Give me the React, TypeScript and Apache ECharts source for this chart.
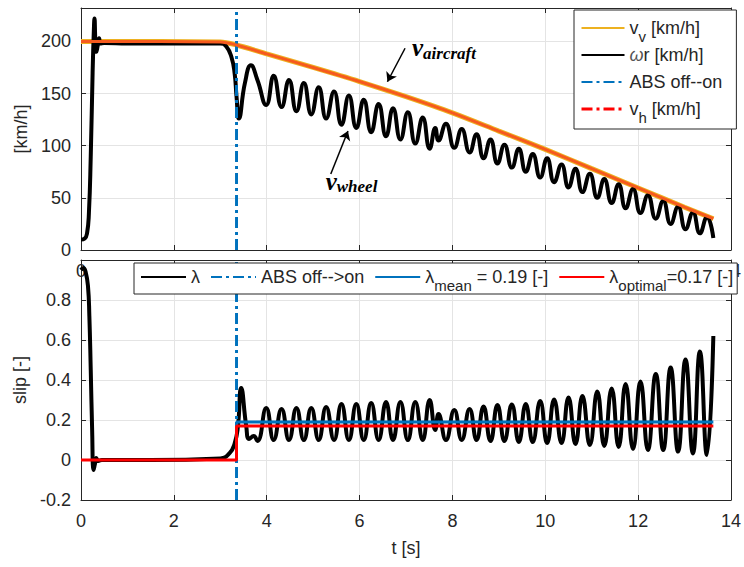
import React, { useEffect, useRef } from 'react';
import * as echarts from 'echarts';

// ---------- data ----------
const absTime = 3.35;

// aircraft speed v_v (and v_h, drawn on top of it) [km/h]
const aircraftT = [0, 3.0, 3.35, 4, 5, 6, 7, 8, 9, 10, 11, 12, 13, 13.62];
const aircraftV = [200, 199.5, 196.5, 188, 175, 161.5, 147, 131.5, 114, 96.5, 78, 59.5, 41, 30];

// wheel speed omega*r [km/h]
const wheelT = [0, 0.08, 0.13, 0.17, 0.21, 0.25, 0.28, 0.29, 0.31, 0.33,
  0.36, 0.39, 0.42, 0.5, 1.0, 2.0, 3.0, 3.13, 3.24, 3.31,
  3.35, 3.40, 3.53, 3.66, 3.80, 3.99, 4.15, 4.32, 4.48, 4.64,
  4.80, 4.96, 5.12, 5.28, 5.45, 5.61, 5.77, 5.93, 6.09, 6.25,
  6.41, 6.57, 6.72, 6.88, 7.04, 7.20, 7.36, 7.51, 7.63, 7.70,
  7.86, 8.04, 8.20, 8.37, 8.52, 8.67, 8.82, 8.97, 9.12, 9.28,
  9.43, 9.58, 9.73, 9.89, 10.04, 10.19, 10.35, 10.50, 10.65, 10.80,
  10.96, 11.12, 11.27, 11.43, 11.58, 11.73, 11.89, 12.05, 12.21, 12.38,
  12.54, 12.70, 12.86, 13.02, 13.18, 13.33, 13.48, 13.62];
const wheelV = [10, 11, 16, 35, 90, 170, 215, 222, 200, 190,
  196, 203, 198, 198.5, 198, 198, 198, 195, 185, 169,
  147, 126, 160, 177, 163, 139, 167, 137, 163, 133,
  160, 130, 156, 126, 152, 120, 148, 117, 144, 113,
  140, 109, 136, 106, 132, 102, 127, 97, 117, 105,
  121, 98, 116, 93.5, 111, 88, 106, 83, 101, 79,
  97, 75, 92, 69.5, 88, 65, 82, 60, 78, 55.5,
  73, 50, 68, 45, 63, 40, 58.5, 35.5, 52.5, 30,
  47, 25, 41.5, 20, 36, 16, 31.5, 11.5];

// slip lambda [-]
const slipT = [0, 0.05, 0.1, 0.15, 0.18, 0.21, 0.24, 0.27, 0.3, 0.33,
  0.37, 0.45, 1.5, 3.0, 3.2, 3.31, 3.38, 3.45, 3.56, 3.62,
  3.72, 3.80, 3.99, 4.15, 4.32, 4.48, 4.64, 4.80, 4.96, 5.12,
  5.28, 5.45, 5.61, 5.77, 5.93, 6.09, 6.25, 6.41, 6.57, 6.72,
  6.88, 7.04, 7.20, 7.36, 7.51, 7.63, 7.70, 7.86, 8.04, 8.20,
  8.37, 8.52, 8.67, 8.82, 8.97, 9.12, 9.28, 9.43, 9.58, 9.73,
  9.89, 10.04, 10.19, 10.35, 10.50, 10.65, 10.80, 10.96, 11.12, 11.27,
  11.43, 11.58, 11.73, 11.89, 12.05, 12.21, 12.38, 12.54, 12.70, 12.86,
  13.02, 13.18, 13.33, 13.48, 13.62];
const slipV = [0.95, 0.96, 0.94, 0.87, 0.72, 0.45, 0.15, -0.05, -0.02, 0.01,
  -0.005, 0, 0, 0.008, 0.034, 0.083, 0.167, 0.36, 0.167, 0.105,
  0.12, 0.095, 0.26, 0.10, 0.255, 0.10, 0.26, 0.10, 0.26, 0.10,
  0.265, 0.10, 0.28, 0.10, 0.28, 0.10, 0.285, 0.10, 0.29, 0.10,
  0.29, 0.10, 0.29, 0.10, 0.30, 0.15, 0.23, 0.10, 0.25, 0.10,
  0.255, 0.10, 0.267, 0.095, 0.275, 0.095, 0.278, 0.09, 0.28, 0.09,
  0.295, 0.085, 0.303, 0.085, 0.312, 0.08, 0.32, 0.075, 0.342, 0.07,
  0.358, 0.065, 0.38, 0.055, 0.392, 0.05, 0.43, 0.05, 0.462, 0.042,
  0.503, 0.033, 0.542, 0.025, 0.62];

const lambdaMeanT = [3.35, 3.35, 13.62];
const lambdaMeanV = [0, 0.19, 0.19];
const lambdaOptT = [0, 3.35, 3.35, 13.62];
const lambdaOptV = [0, 0, 0.17, 0.17];

// axes
const xRange = [0, 14];
const xStep = 2;
const topXLabelsShown = [0, 14]; // the others are hidden under the lower legend
const topYRange = [0, 232];
const topYStep = 50;
const botYRange = [-0.2, 1.0];
const botYStep = 0.2;

// annotation arrows (data coords: tail -> tip) and label anchors
const arrowAircraft = [[6.98, 193.4], [6.60, 161.3]];
const arrowWheel = [[5.38, 72.9], [5.75, 114.1]];
const labelAircraftPos = [7.13, 194];
const labelWheelPos = [5.27, 66];

// ---------- styles ----------
const FONT = '"Liberation Sans", Arial, Helvetica, sans-serif';
const SERIF = '"Liberation Serif", "DejaVu Serif", serif';
const TXT = '#262626';
const GRIDC = '#E4E4E4';
const BLUE = '#0072BD';
const RED = '#FF0000';
const YELLOW = '#EDB120';
const ORANGE = '#F65A1E';
const DASHDOT = [11, 4, 3, 4];

const zip = (t: number[], v: number[]) => t.map((x, i) => [x, v[i]]);

const legendRich = {
  n: { fontSize: 18, lineHeight: 26, fontFamily: FONT, color: TXT },
  s: { fontSize: 15, lineHeight: 12, verticalAlign: 'top', padding: [14, 0, 0, 0], fontFamily: FONT, color: TXT },
  g: { fontSize: 18, lineHeight: 26, fontFamily: FONT, fontStyle: 'italic', color: '#555555' },
};

const topLegendLabels: Record<string, string> = {
  'vv': '{n|v}{s|v}{n| [km/h]}',
  'wr': '{g|ω}{n|r [km/h]}{s| }',
  'ABS off--on': '{n|ABS off--on}{s| }',
  'vh': '{n|v}{s|h}{n| [km/h]}',
};
const bottomLegendLabels: Record<string, string> = {
  'lambda': '{n|λ}',
  'ABS off-->on': '{n|ABS off-->on}',
  'lmean': '{n|λ}{s|mean}{n| = 0.19 [-]}',
  'lopt': '{n|λ}{s|optimal}{n|=0.17 [-]}',
};

function xAxisCfg(gridIndex: number, position: 'bottom' | 'top', main: boolean, name?: string, only?: number[]) {
  return {
    type: 'value', gridIndex, position,
    min: xRange[0], max: xRange[1], interval: xStep,
    name: name || '', nameLocation: 'middle', nameGap: 39,
    nameTextStyle: { fontFamily: FONT, fontSize: 18, color: TXT },
    axisLine: { show: true, onZero: false, lineStyle: { color: TXT, width: 1 } },
    axisTick: { show: true, inside: true, length: 5, lineStyle: { color: TXT } },
    axisLabel: {
      show: main, margin: 12, fontFamily: FONT, fontSize: 18, color: TXT,
      formatter: (v: number) => (only && only.indexOf(v) < 0 ? '' : String(v)),
    },
    splitLine: { show: main, lineStyle: { color: GRIDC, width: 1 } },
  };
}

function yAxisCfg(gridIndex: number, position: 'left' | 'right', main: boolean, range: number[], step: number, name?: string) {
  return {
    type: 'value', gridIndex, position,
    min: range[0], max: range[1], interval: step,
    name: name || '', nameLocation: 'middle', nameGap: 40,
    nameTextStyle: { fontFamily: FONT, fontSize: 18, color: TXT },
    axisLine: { show: true, onZero: false, lineStyle: { color: TXT, width: 1 } },
    axisTick: { show: true, inside: true, length: 5, lineStyle: { color: TXT } },
    axisLabel: {
      show: main, margin: 10, fontFamily: FONT, fontSize: 18, color: TXT,
      showMaxLabel: false,
    },
    splitLine: { show: main, lineStyle: { color: GRIDC, width: 1 } },
  };
}

const lineBase = { type: 'line', showSymbol: false, symbol: 'none', silent: true };

const option: any = {
  animation: false,
  backgroundColor: '#ffffff',
  grid: [
    { left: 81, right: 11, top: 8, height: 242 },
    { left: 81, right: 11, top: 260, height: 240 },
  ],
  xAxis: [
    xAxisCfg(0, 'bottom', true, '', topXLabelsShown),
    xAxisCfg(1, 'bottom', true, 't [s]'),
    xAxisCfg(0, 'top', false),
    xAxisCfg(1, 'top', false),
  ],
  yAxis: [
    yAxisCfg(0, 'left', true, topYRange, topYStep, '[km/h]'),
    yAxisCfg(1, 'left', true, botYRange, botYStep, 'slip [-]'),
    yAxisCfg(0, 'right', false, topYRange, topYStep),
    yAxisCfg(1, 'right', false, botYRange, botYStep),
  ],
  legend: [
    {
      orient: 'vertical', left: 574, top: 10,
      backgroundColor: '#ffffff', borderColor: TXT, borderWidth: 1, borderRadius: 0,
      padding: [5, 10, 4, 6], itemGap: -2, itemWidth: 43, itemHeight: 14,
      selectedMode: false,
      itemStyle: { opacity: 0 },
      formatter: (n: string) => topLegendLabels[n] || n,
      textStyle: { fontFamily: FONT, fontSize: 18, color: TXT, rich: legendRich },
      data: [
        { name: 'vv' },
        { name: 'wr' },
        { name: 'ABS off--on' },
        { name: 'vh', lineStyle: { color: RED, type: DASHDOT, width: 3 } },
      ],
    },
    {
      orient: 'horizontal', left: 134, top: 263, width: 620,
      backgroundColor: '#ffffff', borderColor: TXT, borderWidth: 1, borderRadius: 0,
      padding: [1, 4, 1, 6], itemGap: 10, itemWidth: 45, itemHeight: 14,
      selectedMode: false,
      itemStyle: { opacity: 0 },
      formatter: (n: string) => bottomLegendLabels[n] || n,
      textStyle: { fontFamily: FONT, fontSize: 18, color: TXT, rich: legendRich },
      data: [{ name: 'lambda' }, { name: 'ABS off-->on' }, { name: 'lmean' }, { name: 'lopt' }],
    },
  ],
  series: [
    {
      ...lineBase, name: 'vv', xAxisIndex: 0, yAxisIndex: 0, smooth: 0.3,
      color: YELLOW, lineStyle: { color: YELLOW, width: 5 },
      data: zip(aircraftT, aircraftV),
    },
    {
      ...lineBase, name: 'wr', xAxisIndex: 0, yAxisIndex: 0, smooth: 0.5,
      color: '#000000', lineStyle: { color: '#000000', width: 4 },
      data: zip(wheelT, wheelV),
      markLine: {
        silent: true, symbol: ['none', 'arrow'], symbolSize: 9,
        label: { show: false },
        lineStyle: { color: '#000000', width: 1.5, type: 'solid' },
        data: [
          [{ coord: arrowAircraft[0] }, { coord: arrowAircraft[1] }],
          [{ coord: arrowWheel[0] }, { coord: arrowWheel[1] }],
        ],
      },
    },
    {
      ...lineBase, name: 'ABS off--on', xAxisIndex: 0, yAxisIndex: 0,
      color: BLUE, lineStyle: { color: BLUE, width: 3, type: DASHDOT },
      data: [[absTime, topYRange[0]], [absTime, topYRange[1]]],
    },
    {
      ...lineBase, name: 'vh', xAxisIndex: 0, yAxisIndex: 0, smooth: 0.3,
      color: RED, lineStyle: { color: ORANGE, width: 3 },
      data: zip(aircraftT, aircraftV),
    },
    {
      ...lineBase, name: 'lambda', xAxisIndex: 1, yAxisIndex: 1, smooth: 0.5,
      color: '#000000', lineStyle: { color: '#000000', width: 4 },
      data: zip(slipT, slipV),
    },
    {
      ...lineBase, name: 'ABS off-->on', xAxisIndex: 1, yAxisIndex: 1,
      color: BLUE, lineStyle: { color: BLUE, width: 3, type: DASHDOT },
      data: [[absTime, botYRange[0]], [absTime, botYRange[1]]],
    },
    {
      ...lineBase, name: 'lmean', xAxisIndex: 1, yAxisIndex: 1,
      color: BLUE, lineStyle: { color: BLUE, width: 3 },
      data: zip(lambdaMeanT, lambdaMeanV),
    },
    {
      ...lineBase, name: 'lopt', xAxisIndex: 1, yAxisIndex: 1,
      color: RED, lineStyle: { color: RED, width: 3 },
      data: zip(lambdaOptT, lambdaOptV),
    },
  ],
};

const annRich = {
  a: { fontFamily: SERIF, fontSize: 25, fontWeight: 'bold', fontStyle: 'italic', color: '#000', lineHeight: 28 },
  b: { fontFamily: SERIF, fontSize: 17, fontWeight: 'bold', fontStyle: 'italic', color: '#000', lineHeight: 17, verticalAlign: 'bottom' },
};

export default function App() {
  const ref = useRef<HTMLDivElement>(null);
  useEffect(() => {
    if (!ref.current) return;
    const chart = echarts.init(ref.current, null, { renderer: 'svg' });
    chart.setOption(option);
    const pa = chart.convertToPixel({ gridIndex: 0 }, labelAircraftPos) as number[];
    const pw = chart.convertToPixel({ gridIndex: 0 }, labelWheelPos) as number[];
    chart.setOption({
      graphic: [
        {
          type: 'text', x: pa[0], y: pa[1], z: 10, silent: true,
          style: { text: '{a|v}{b|aircraft}', rich: annRich, verticalAlign: 'middle', align: 'left' },
        },
        {
          type: 'text', x: pw[0], y: pw[1], z: 10, silent: true,
          style: { text: '{a|v}{b|wheel}', rich: annRich, verticalAlign: 'middle', align: 'left' },
        },
      ],
    });
    return () => chart.dispose();
  }, []);
  return (
    <div
      ref={ref}
      style={{ position: 'fixed', left: 0, top: 0, width: 744, height: 567, background: '#fff' }}
    />
  );
}
